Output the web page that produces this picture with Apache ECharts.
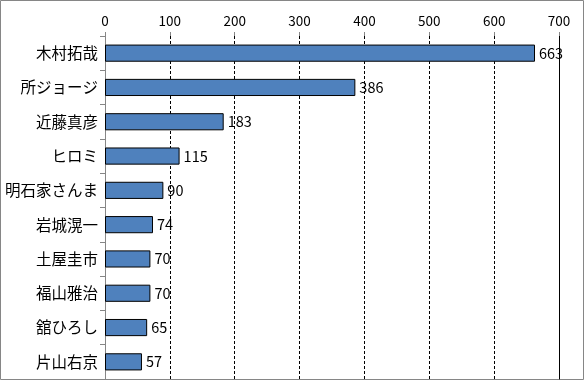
<!DOCTYPE html>
<html><head><meta charset="utf-8">
<script src="https://cdn.jsdelivr.net/npm/echarts@6/dist/echarts.min.js"></script>
<style>html,body{margin:0;padding:0;background:#fff}#c{width:584px;height:380px}</style>
</head><body><div id="c"></div>
<script>
const categories = ['木村拓哉','所ジョージ','近藤真彦','ヒロミ','明石家さんま','岩城滉一','土屋圭市','福山雅治','舘ひろし','片山右京'];
const values = [663,386,183,115,90,74,70,70,65,57];
const xTicks = {min:0, max:700, interval:100};
const font = '"MS PGothic","Noto Sans CJK JP",sans-serif';
const chart = echarts.init(document.getElementById('c'), null, {renderer:'canvas'});
chart.setOption({
  animation:false,
  backgroundColor:'#fff',
  graphic:[{type:'rect', shape:{x:0.5,y:0.5,width:583,height:379}, style:{fill:'none', stroke:'#868686', lineWidth:1}, silent:true}],
  grid:{left:105, right:25, top:36, bottom:1},
  xAxis:{type:'value', position:'top', min:xTicks.min, max:xTicks.max, interval:xTicks.interval,
    axisLine:{show:false},
    axisTick:{show:true, length:4, lineStyle:{color:'#868686'}},
    axisLabel:{color:'#000', fontSize:13.5, fontFamily:font, margin:8},
    splitLine:{show:true, lineStyle:{color:'#000', type:[3,2], width:1}}},
  yAxis:[{type:'category', data:categories, inverse:true,
    axisLine:{show:true, lineStyle:{color:'#868686'}},
    axisTick:{show:true, length:5, lineStyle:{color:'#868686'}},
    axisLabel:{color:'#000', fontSize:15.5, fontFamily:font, margin:7}},
    {type:'category', data:categories, inverse:true, position:'right',
    axisLine:{show:true, lineStyle:{color:'#000'}}, axisTick:{show:false}, axisLabel:{show:false}}],
  series:[{type:'bar', data:values, barCategoryGap:'50%',
    itemStyle:{color:'#4F81BD', borderColor:'#000', borderWidth:1},
    label:{show:true, position:'right', distance:4, color:'#000', fontSize:14.5, fontFamily:font}}]
});
</script></body></html>
